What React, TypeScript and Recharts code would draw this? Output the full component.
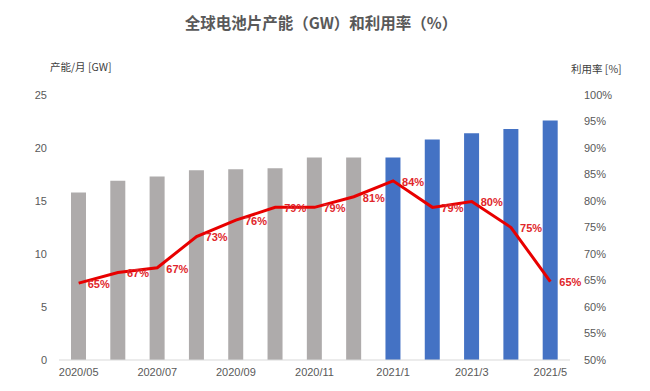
import React from "react"
import {
  ComposedChart,
  Bar,
  Line,
  XAxis,
  YAxis,
  Cell,
  LabelList,
} from "recharts"

document.body.style.margin = "0"

// months
const months = [
  "2020/05", "2020/06", "2020/07", "2020/08", "2020/09", "2020/10", "2020/11",
  "2020/12", "2021/1", "2021/2", "2021/3", "2021/4", "2021/5",
]
// capacity per month [GW]
const capacity = [15.8, 16.9, 17.3, 17.9, 18.0, 18.1, 19.1, 19.1, 19.1, 20.8, 21.4, 21.8, 22.6]
// utilization [%]
const utilization = [64.5, 66.5, 67.4, 73.3, 76.4, 78.8, 78.8, 80.8, 83.8, 78.8, 79.9, 75, 64.8]
// 2021 bars are blue
const is2021 = [false, false, false, false, false, false, false, false, true, true, true, true, true]

const leftTicks = [0, 5, 10, 15, 20, 25]
const rightTicks = [50, 55, 60, 65, 70, 75, 80, 85, 90, 95, 100]

const data = months.map((m, i) => ({
  month: m,
  capacity: capacity[i],
  rate: utilization[i],
}))

const FONT = '"Liberation Sans", Arial, "Noto Sans CJK SC", sans-serif'
const CJK = '"Noto Sans CJK SC", "Liberation Sans", sans-serif'
const LINE_RED = "#e80000"
const LABEL_RED = "#e0262b"

const RateLabel = (props: any) => {
  const { x, y, value } = props
  return (
    <text
      x={x + 9}
      y={y + 2}
      fill={LABEL_RED}
      fontSize={11}
      fontWeight="bold"
      fontFamily={FONT}
      dominantBaseline="middle"
    >
      {Math.round(value)}%
    </text>
  )
}

export default function App() {
  return (
    <div style={{ position: "relative", width: 650, height: 391, background: "#fff" }}>
      <div
        style={{
          position: "absolute",
          top: 10,
          left: 0,
          width: 642,
          textAlign: "center",
          fontFamily: CJK,
          fontSize: 15.5,
          fontWeight: "bold",
          color: "#595959",
          lineHeight: "24px",
        }}
      >
        全球电池片产能（GW）和利用率（%）
      </div>
      <div
        style={{
          position: "absolute",
          top: 60,
          left: 50,
          fontFamily: CJK,
          fontSize: 10.5,
          color: "#404040",
          lineHeight: "14px",
        }}
      >
        产能/月 [GW]
      </div>
      <div
        style={{
          position: "absolute",
          top: 62,
          left: 571,
          fontFamily: CJK,
          fontSize: 10.5,
          color: "#404040",
          lineHeight: "14px",
        }}
      >
        利用率 [%]
      </div>
      <ComposedChart
        width={650}
        height={391}
        data={data}
        margin={{ top: 95, right: 20, left: 9, bottom: 1 }}
      >
        <XAxis
          dataKey="month"
          interval={1}
          tickLine={false}
          axisLine={{ stroke: "#d9d9d9" }}
          tick={{ fontSize: 11, fill: "#595959", fontFamily: FONT }}
          height={30}
        />
        <YAxis
          yAxisId="left"
          domain={[0, 25]}
          ticks={leftTicks}
          axisLine={false}
          tickLine={false}
          tickMargin={6}
          width={50}
          tick={{ fontSize: 11, fill: "#595959", fontFamily: FONT }}
        />
        <YAxis
          yAxisId="right"
          orientation="right"
          domain={[50, 100]}
          ticks={rightTicks}
          axisLine={false}
          tickLine={false}
          tickMargin={8}
          width={60}
          tickFormatter={(v) => `${v}%`}
          tick={{ fontSize: 11, fill: "#595959", fontFamily: FONT }}
        />
        <Bar yAxisId="left" dataKey="capacity" barSize={15} isAnimationActive={false}>
          {data.map((d, i) => (
            <Cell key={d.month} fill={is2021[i] ? "#4472c4" : "#aeabab"} />
          ))}
        </Bar>
        <Line
          yAxisId="right"
          dataKey="rate"
          type="linear"
          stroke={LINE_RED}
          strokeWidth={3}
          dot={false}
          isAnimationActive={false}
        >
          <LabelList dataKey="rate" content={<RateLabel />} />
        </Line>
      </ComposedChart>
    </div>
  )
}
